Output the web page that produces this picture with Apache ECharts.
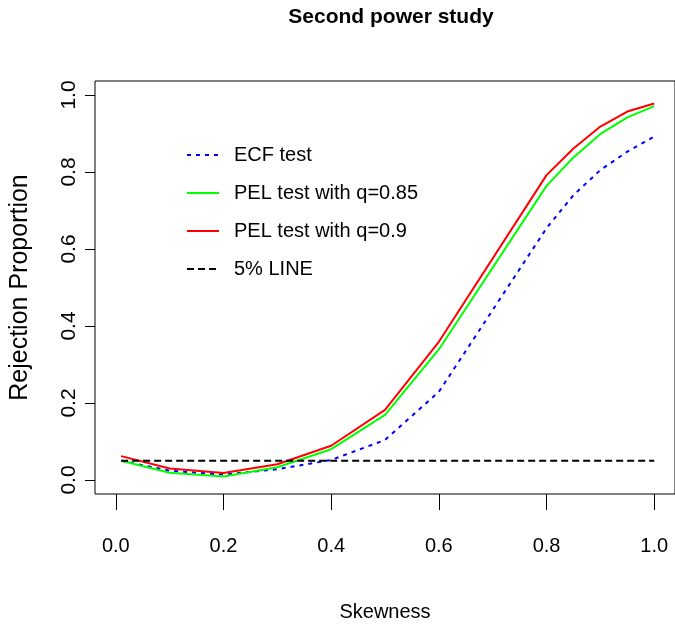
<!DOCTYPE html>
<html>
<head>
<meta charset="utf-8">
<title>Second power study</title>
<script src="https://cdn.jsdelivr.net/npm/echarts@6/dist/echarts.min.js"></script>
<style>
  html, body { margin: 0; padding: 0; background: #fff; }
  #chart { width: 675px; height: 631px; }
</style>
</head>
<body>
<div id="chart"></div>
<script>
// skewness values (x axis)
var skew = [0.01, 0.1, 0.2, 0.3, 0.4, 0.5, 0.6, 0.8, 0.85, 0.9, 0.95, 1.0];
// rejection proportions
var ecf = [0.050, 0.024, 0.014, 0.028, 0.052, 0.104, 0.229, 0.654, 0.740, 0.805, 0.853, 0.892];
var pel85 = [0.050, 0.019, 0.009, 0.033, 0.080, 0.169, 0.339, 0.764, 0.838, 0.899, 0.942, 0.971];
var pel90 = [0.062, 0.030, 0.018, 0.041, 0.089, 0.182, 0.359, 0.792, 0.861, 0.918, 0.957, 0.978];
// 5% reference line
var lineX = [0.01, 1.0];
var lineY = [0.05, 0.05];
// tick labels
var xTicks = [0, 0.2, 0.4, 0.6, 0.8, 1.0];
var yTicks = [0, 0.2, 0.4, 0.6, 0.8, 1.0];

function pairs(xs, ys) {
  return xs.map(function (x, i) { return [x, ys[i]]; });
}

var font = "'Liberation Sans', Arial, sans-serif";

var myChart = echarts.init(document.getElementById('chart'));
var option = {
  animation: false,
  title: {
    text: 'Second power study',
    left: 386,
    textAlign: 'center',
    top: 2,
    textStyle: { fontFamily: font, fontWeight: 'bold', fontSize: 21, color: '#000' }
  },
  legend: {
    orient: 'vertical',
    left: 181,
    top: 140,
    itemWidth: 32,
    itemHeight: 14,
    itemGap: 18,
    itemStyle: { opacity: 0 },
    textStyle: { fontFamily: font, fontSize: 20, color: '#000', padding: [0, 0, 0, 10] },
    data: ['ECF test', 'PEL test with q=0.85', 'PEL test with q=0.9', '5% LINE']
  },
  grid: {
    left: 93,
    top: 81,
    width: 586,
    height: 413,
    show: true,
    borderColor: '#000',
    borderWidth: 1
  },
  xAxis: {
    type: 'value',
    min: -0.0386,
    max: 1.0386,
    name: 'Skewness',
    nameLocation: 'middle',
    nameGap: 108,
    nameTextStyle: { fontFamily: font, fontSize: 20, color: '#000' },
    axisLine: { show: false, onZero: false },
    splitLine: { show: false },
    axisTick: { show: true, length: 16, customValues: xTicks, lineStyle: { color: '#000' } },
    axisLabel: {
      customValues: xTicks,
      margin: 42,
      fontFamily: font,
      fontSize: 20,
      color: '#000',
      formatter: function (v) { return v.toFixed(1); }
    }
  },
  yAxis: {
    type: 'value',
    min: -0.0364,
    max: 1.0364,
    name: 'Rejection Proportion',
    nameLocation: 'middle',
    nameGap: 62,
    nameTextStyle: { fontFamily: font, fontSize: 25, color: '#000' },
    axisLine: { show: false, onZero: false },
    splitLine: { show: false },
    axisTick: { show: true, length: 10, customValues: yTicks, lineStyle: { color: '#000' } },
    axisLabel: {
      customValues: yTicks,
      rotate: 90,
      margin: 15,
      fontFamily: font,
      fontSize: 21,
      color: '#000',
      formatter: function (v) { return v.toFixed(1); }
    }
  },
  series: [
    {
      name: 'ECF test',
      type: 'line',
      symbol: 'none',
      data: pairs(skew, ecf),
      lineStyle: { color: '#0000ff', width: 2, type: [4, 5] },
      itemStyle: { color: '#0000ff' }
    },
    {
      name: 'PEL test with q=0.85',
      type: 'line',
      symbol: 'none',
      data: pairs(skew, pel85),
      lineStyle: { color: '#00ff00', width: 2 },
      itemStyle: { color: '#00ff00' }
    },
    {
      name: 'PEL test with q=0.9',
      type: 'line',
      symbol: 'none',
      data: pairs(skew, pel90),
      lineStyle: { color: '#ff0000', width: 2 },
      itemStyle: { color: '#ff0000' }
    },
    {
      name: '5% LINE',
      type: 'line',
      symbol: 'none',
      data: pairs(lineX, lineY),
      lineStyle: { color: '#000', width: 2, type: [7, 4] },
      itemStyle: { color: '#000' }
    }
  ]
};
myChart.setOption(option);
</script>
</body>
</html>
